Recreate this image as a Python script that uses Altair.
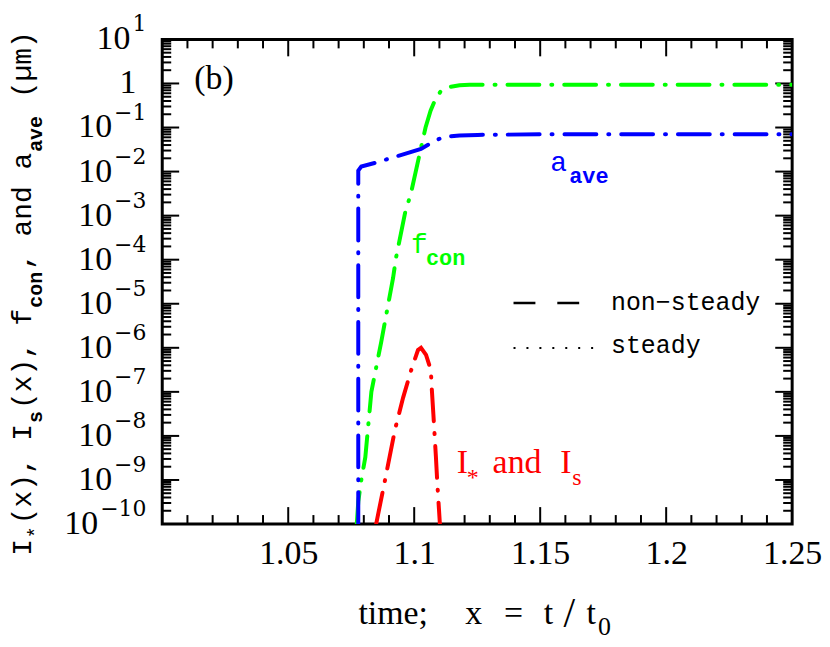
import altair as alt
import pandas as pd

# ---------------- data ----------------
# a_ave (blue)
aave_x = [1.0778, 1.0778, 1.0790, 1.0845, 1.0950, 1.1027, 1.1060, 1.1082, 1.1105, 1.1133, 1.1180, 1.1252, 1.1500, 1.2000, 1.2500]
aave_y = [1.0e-10, 1.05e-2, 1.3e-2, 1.58e-2, 2.4e-2, 3.27e-2, 4.2e-2, 5.0e-2, 5.7e-2, 6.2e-2, 6.6e-2, 6.8e-2, 7.0e-2, 7.0e-2, 7.0e-2]

# f_con (green)
fcon_x = [1.0772, 1.0778, 1.0790, 1.0806, 1.0830, 1.0869, 1.0916, 1.0928, 1.0964, 1.0987, 1.1027, 1.1045, 1.1065, 1.1085, 1.1105, 1.1140, 1.1180, 1.1220, 1.1500, 1.2000, 1.2500]
fcon_y = [1.0e-10, 3.2e-10, 1.0e-9, 3.3e-9, 1.0e-7, 1.35e-6, 3.8e-5, 1.12e-4, 1.17e-3, 3.2e-3, 3.47e-2, 0.10, 0.24, 0.45, 0.66, 0.83, 0.91, 0.93, 0.93, 0.93, 0.93]

# I_* and I_s (red)
istar_x = [1.0849, 1.0885, 1.0924, 1.0956, 1.0991, 1.1015, 1.1027, 1.1047, 1.1066, 1.1070, 1.1076, 1.1086, 1.1092, 1.1102]
istar_y = [1.0e-10, 1.05e-9, 1.41e-8, 7.4e-8, 3.55e-7, 8.9e-7, 1.0e-6, 6.9e-7, 3.16e-7, 1.12e-7, 3.16e-8, 3.47e-9, 7.9e-10, 1.0e-10]

x_label_values = [1.05, 1.1, 1.15, 1.2, 1.25]
y_decades = [1, 0, -1, -2, -3, -4, -5, -6, -7, -8, -9, -10]

# ---------------- layout ----------------
W, H = 633, 487
OX, OY = 163, 38          # page position of plot origin
SERIF = "Liberation Serif"
EXPFONT = "DejaVu Serif"
MONO = "Liberation Mono"
BLUE, GREEN, RED = "#0000ff", "#00ff00", "#ff0000"

xs = alt.Scale(domain=[1.0, 1.25], nice=False, zero=False)
ys = alt.Scale(type="log", domain=[1e-10, 10], nice=False)
X_AX = alt.Axis(values=x_label_values, format="~g", ticks=False, tickSize=0, domain=False, grid=False,
                labelFont=SERIF, labelFontSize=34, labelColor="black", labelPadding=13,
                labelFlush=False, labelOverlap=False, title=None)

DASHDOT = [32, 12, 1, 12]
one = pd.DataFrame({"a": [0]})


def curve(xv, yv, color):
    df = pd.DataFrame({"x": xv, "y": yv, "o": list(range(len(xv)))})
    return alt.Chart(df).mark_line(color=color, strokeWidth=4, strokeDash=DASHDOT,
                                   strokeCap="round", clip=True).encode(
        x=alt.X("x:Q", scale=xs, axis=X_AX),
        y=alt.Y("y:Q", scale=ys, axis=None),
        order="o:Q")


def txt(text, px, py, size, color="black", font=SERIF, align="left", baseline="alphabetic",
        angle=0, weight="normal"):
    return alt.Chart(one).mark_text(text=text, align=align, baseline=baseline, font=font,
                                    fontSize=size, color=color, angle=angle,
                                    fontWeight=weight).encode(
        x=alt.value(px - OX), y=alt.value(py - OY))


layers = []

# ---------- tick marks (inward, all four sides) ----------
ymaj = [10.0 ** k for k in range(-10, 2)]
ymin = [m * 10.0 ** k for k in range(-10, 1) for m in range(2, 10)]
xmaj = [1.05, 1.1, 1.15, 1.2]
xmin = [round(1.0 + 0.01 * i, 2) for i in range(1, 25) if i % 5]

for vals, ln in ((ymaj, 17), (ymin, 9)):
    d = pd.DataFrame({"v": vals})
    for x0, x1 in ((0, ln), (W - ln, W)):
        layers.append(alt.Chart(d).mark_rule(color="black", strokeWidth=2).encode(
            y=alt.Y("v:Q", scale=ys, axis=None), x=alt.value(x0), x2=alt.value(x1)))
for vals, ln in ((xmaj, 17), (xmin, 9)):
    d = pd.DataFrame({"v": vals})
    for y0, y1 in ((H, H - ln), (0, ln)):
        layers.append(alt.Chart(d).mark_rule(color="black", strokeWidth=2).encode(
            x=alt.X("v:Q", scale=xs, axis=X_AX), y=alt.value(y0), y2=alt.value(y1)))

# ---------- curves ----------
layers.append(curve(fcon_x, fcon_y, GREEN))
layers.append(curve(aave_x, aave_y, BLUE))
layers.append(curve(istar_x, istar_y, RED))

# ---------- y tick labels: 10 with superscript exponent ----------
EXP_SIZE = 22
BASE_SIZE = 34
rows = []
for e in y_decades:
    if e == 0:
        rows.append({"v": 1.0, "base": "1", "bx": 137 - OX, "exp": "", "ex": 147 - OX})
    else:
        s = str(e).replace("-", "\u2212")
        w = sum(0.838 if c == "\u2212" else 0.636 for c in s) * EXP_SIZE
        rows.append({"v": 10.0 ** e, "base": "10", "bx": 147 - OX - w - 2, "exp": s, "ex": 147 - OX})
ylab = pd.DataFrame(rows)
layers.append(alt.Chart(ylab).mark_text(align="right", baseline="alphabetic", font=SERIF,
                                        fontSize=BASE_SIZE, color="black", dy=10).encode(
    x=alt.X("bx:Q", scale=None), y=alt.Y("v:Q", scale=ys, axis=None), text="base:N"))
layers.append(alt.Chart(ylab).mark_text(align="right", baseline="alphabetic", font=EXPFONT,
                                        fontSize=EXP_SIZE, color="black", dy=-8).encode(
    x=alt.X("ex:Q", scale=None), y=alt.Y("v:Q", scale=ys, axis=None), text="exp:N"))

# ---------- y title (rotated, with subscripts) ----------
F, f = 28, 20
pieces = [("I", False, 0), ("*", True, 0), ("(x),\u00a0I", False, 0), ("s", True, 0),
          ("(x),\u00a0f", False, 0), ("con", True, 0), (",\u00a0and\u00a0a", False, 0),
          ("ave", True, 0), ("(\u00b5m)", False, 16)]
ypos = 557
for s, sub, gap in pieces:
    size = f if sub else F
    ypos -= gap
    if sub:
        ypos -= 1
    layers.append(txt(s, 42 if sub else 31, ypos, size, font=MONO, angle=270,
                      weight="bold" if sub and s != "*" else "normal"))
    ypos -= len(s) * 0.6 * size
    if sub:
        ypos -= 2

# ---------- x title ----------
layers.append(txt("time;", 430, 625, 34, align="right"))
layers.append(txt("x", 476, 625, 34, align="center"))
layers.append(txt("=", 516, 625, 34, align="center"))
layers.append(txt("t", 551, 625, 34, align="center"))
layers.append(txt("/", 572, 628, 42, align="center"))
layers.append(txt("t", 594, 625, 34, align="center"))
layers.append(txt("0", 601, 637, 26))

# ---------- in-plot annotations ----------
layers.append(txt("(b)", 215, 78, 34, align="center", baseline="middle"))
layers.append(txt("a", 553, 170, 28, color=BLUE, font=MONO))
layers.append(txt("ave", 572, 182, 22, color=BLUE, font=MONO, weight="bold"))
layers.append(txt("f", 413, 253, 28, color=GREEN, font=MONO))
layers.append(txt("con", 428, 265, 22, color=GREEN, font=MONO, weight="bold"))
layers.append(txt("I", 459, 474, 34, color=RED))
layers.append(txt("*", 469, 486, 24, color=RED))
layers.append(txt("and", 495, 474, 34, color=RED))
layers.append(txt("I", 563, 474, 34, color=RED))
layers.append(txt("s", 575, 486, 24, color=RED))

# ---------- line-style key ----------
layers.append(alt.Chart(one).mark_rule(color="black", strokeWidth=2.5, strokeDash=[22, 22]).encode(
    x=alt.value(516 - OX), x2=alt.value(582 - OX), y=alt.value(303 - OY)))
layers.append(alt.Chart(one).mark_rule(color="black", strokeWidth=2, strokeDash=[2, 11]).encode(
    x=alt.value(516 - OX), x2=alt.value(596 - OX), y=alt.value(348 - OY)))
layers.append(txt("non\u2212steady", 614, 302, 25, font=MONO, baseline="middle"))
layers.append(txt("steady", 614, 345, 25, font=MONO, baseline="middle"))

chart = alt.layer(*layers).properties(
    width=W, height=H,
    autosize=alt.AutoSizeParams(type="none"),
    padding={"left": OX - 8, "top": OY - 8, "right": 30, "bottom": 118},
).configure_view(stroke="black", strokeWidth=3)

chart.save("out.html", embed_options={"renderer": "svg", "actions": False})
